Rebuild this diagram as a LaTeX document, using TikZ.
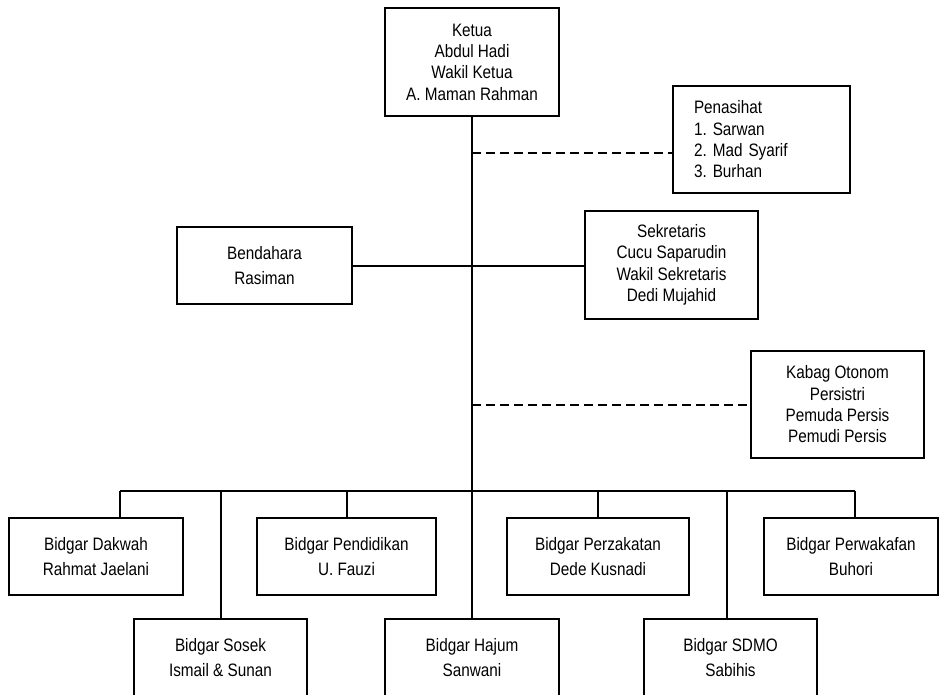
\documentclass[tikz,border=0pt]{standalone}
\usepackage{fontspec}
\setmainfont{Liberation Sans}[FakeStretch=0.85]
\frenchspacing
\begin{document}
\begin{tikzpicture}[x=0.75pt,y=-0.75pt,
  box/.style={draw, line width=1.35pt, inner sep=0pt, align=center,
    minimum height=57.75pt, font=\fontsize{13.5}{19.2}\selectfont},
  box4/.style={box, minimum height=81pt, font=\fontsize{13.5}{16}\selectfont},
  conn/.style={line width=1.5pt},
  dconn/.style={line width=1.5pt, dash pattern=on 6.75pt off 3.75pt}]
\useasboundingbox (0,0) rectangle (940,694);

\node[box4, minimum width=130.5pt] (ketua) at (472,62) {Ketua\\Abdul Hadi\\Wakil Ketua\\A. Maman Rahman};
\node[box4, minimum width=132.75pt, minimum height=80.25pt, align=left,
      text width=101.25pt, inner xsep=15.75pt] (penasihat) at (761.5,139.5)
      {Penasihat\\1. Sarwan\\2. Mad Syarif\\3. Burhan};
\node[box, minimum width=131.25pt] (bendahara) at (264.5,265.5) {Bendahara\\Rasiman};
\node[box4, minimum width=129.75pt] (sekretaris) at (671.5,265) {Sekretaris\\Cucu Saparudin\\Wakil Sekretaris\\Dedi Mujahid};
\node[box4, minimum width=129.75pt, minimum height=80.25pt] (kabag) at (837.5,404.5) {Kabag Otonom\\Persistri\\Pemuda Persis\\Pemudi Persis};

\node[box, minimum width=130.5pt] (dakwah) at (96,556.5) {Bidgar Dakwah\\Rahmat Jaelani};
\node[box, minimum width=134.25pt] (pendidikan) at (346.5,556.5) {Bidgar Pendidikan\\U. Fauzi};
\node[box, minimum width=136.5pt] (perzakatan) at (598,556.5) {Bidgar Perzakatan\\Dede Kusnadi};
\node[box, minimum width=130.5pt] (perwakafan) at (851,556.5) {Bidgar Perwakafan\\Buhori};

\node[box, minimum width=129.75pt] (sosek) at (220.5,657.5) {Bidgar Sosek\\Ismail \& Sunan};
\node[box, minimum width=130.5pt] (hajum) at (472,657.5) {Bidgar Hajum\\Sanwani};
\node[box, minimum width=129.75pt] (sdmo) at (730.5,657.5) {Bidgar SDMO\\Sabihis};

% main spine
\draw[conn] (ketua.south) -- (hajum.north);
% advisors / autonomous (dashed)
\coordinate (pj) at (472,153);
\draw[dconn] (pj) -- (pj -| penasihat.west);
\draw[dconn] (kabag.west -| ketua.south) -- (kabag.west);
% bendahara - sekretaris
\draw[conn] (bendahara.east) -- (bendahara.east -| sekretaris.west);
% bus
\coordinate (bL) at (120,491);
\coordinate (bR) at (855,491);
\coordinate (bS) at (727,491);
\draw[conn] (bL) -- (bR);
\draw[conn] (bL) -- (bL |- dakwah.north);
\draw[conn] (sosek.north |- bL) -- (sosek.north);
\draw[conn] (pendidikan.north |- bL) -- (pendidikan.north);
\draw[conn] (perzakatan.north |- bL) -- (perzakatan.north);
\draw[conn] (bS) -- (bS |- sdmo.north);
\draw[conn] (bR) -- (bR |- perwakafan.north);
\end{tikzpicture}
\end{document}
